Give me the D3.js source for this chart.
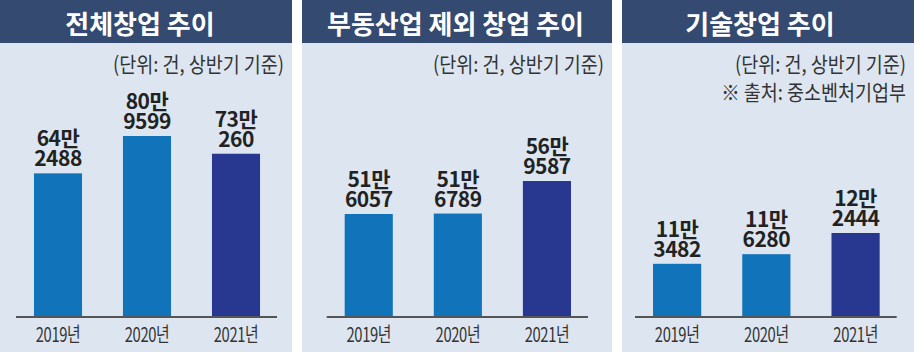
<!DOCTYPE html>
<html>
<head>
<meta charset="utf-8">
<script src="https://cdn.jsdelivr.net/npm/d3@7"></script>
<style>
  body { margin: 0; background: #fff; }
  svg { display: block; }
</style>
</head>
<body>
<svg id="chart"></svg>
<script>
// data
const years = ['2019년', '2020년', '2021년'];
const titles = ['전체창업 추이', '부동산업 제외 창업 추이', '기술창업 추이'];
const totalStartups = [642488, 809599, 730260];
const nonRealEstate = [516057, 516789, 569587];
const techStartups = [113482, 116280, 122444];
const valueLabels = [
  ['64만', '2488'], ['80만', '9599'], ['73만', '260'],
  ['51만', '6057'], ['51만', '6789'], ['56만', '9587'],
  ['11만', '3482'], ['11만', '6280'], ['12만', '2444']
];
const unitNote = '(단위: 건, 상반기 기준)';
const sourceNote = '※ 출처: 중소벤처기업부';

const series = [totalStartups, nonRealEstate, techStartups];
// scale floors (the original graphic doesn't start every panel at zero)
const yFloors = [0, 349000, 98000];

// layout per panel
const panels = [
  { x: 0, w: 292, axis: [16, 277], titleX: 140, top: 136 },
  { x: 302, w: 310, axis: [326.7, 588], titleX: 455.5, top: 181 },
  { x: 622, w: 292, axis: [635, 896.7], titleX: 760, top: 233 }
];

const width = 917, height = 354;
const baseline = 317;
const headerH = 43;
const colors = ['#1173ba', '#1173ba', '#283790'];
const font = '"Noto Sans CJK KR", sans-serif';

const svg = d3.select('#chart')
    .attr('width', width)
    .attr('height', height);

panels.forEach((p, pi) => {
  const g = svg.append('g');

  // background + header
  g.append('rect')
      .attr('x', p.x).attr('y', 0)
      .attr('width', p.w).attr('height', 352)
      .attr('fill', '#dde6f0');
  g.append('rect')
      .attr('x', p.x).attr('y', 0)
      .attr('width', p.w).attr('height', headerH)
      .attr('fill', '#344a70');
  g.append('text')
      .attr('x', p.titleX).attr('y', 34)
      .attr('text-anchor', 'middle')
      .style('font-family', font)
      .style('font-weight', 'bold')
      .style('font-size', '26px')
      .attr('fill', '#fff')
      .text(titles[pi]);

  // notes, a bit condensed like the original
  const right = p.x + p.w - 8;
  const notes = pi === 2 ? [unitNote, sourceNote] : [unitNote];
  notes.forEach((t, ni) => {
    g.append('text')
        .attr('transform', `translate(${right},${72 + ni * 28}) scale(0.88,1)`)
        .attr('text-anchor', 'end')
        .style('font-family', font)
        .style('font-size', '21px')
        .attr('fill', '#333')
        .text(t);
  });

  const xScale = d3.scaleBand()
      .domain(years)
      .range([p.axis[0] - 2.5, p.axis[1] + 3.5])
      .paddingInner(0.46)
      .paddingOuter(0.23);

  const yScale = d3.scaleLinear()
      .domain([yFloors[pi], d3.max(series[pi])])
      .range([baseline, p.top]);

  const data = series[pi].map((v, i) => ({ year: years[i], value: v, label: valueLabels[pi * 3 + i], i }));

  g.selectAll('rect.bar')
    .data(data)
    .enter()
    .append('rect')
      .attr('class', 'bar')
      .attr('x', d => xScale(d.year))
      .attr('y', d => yScale(d.value))
      .attr('width', xScale.bandwidth())
      .attr('height', d => baseline - yScale(d.value))
      .attr('fill', d => colors[d.i]);

  // value labels, two lines
  const lbl = g.selectAll('text.val')
    .data(data)
    .enter()
    .append('text')
      .attr('class', 'val')
      .attr('text-anchor', 'middle')
      .style('font-family', font)
      .style('font-weight', 'bold')
      .style('font-size', '21px')
      .style('letter-spacing', '-0.5px')
      .attr('fill', '#222');
  lbl.append('tspan')
      .attr('x', d => xScale(d.year) + xScale.bandwidth() / 2)
      .attr('y', d => yScale(d.value) - 27)
      .text(d => d.label[0]);
  lbl.append('tspan')
      .attr('x', d => xScale(d.year) + xScale.bandwidth() / 2)
      .attr('y', d => yScale(d.value) - 7)
      .text(d => d.label[1]);

  // x axis
  const axisG = g.append('g')
      .attr('transform', `translate(0,${baseline})`)
      .call(d3.axisBottom(xScale).tickSize(0).tickPadding(10));
  axisG.select('.domain')
      .attr('d', `M${p.axis[0]},0H${p.axis[1]}`)
      .attr('stroke', '#555')
      .attr('stroke-width', 2);
  axisG.selectAll('.tick text')
      .attr('y', 0)
      .attr('dy', 0)
      .attr('transform', 'translate(0,25) scale(0.74,1)')
      .style('font-family', font)
      .style('font-size', '20px')
      .style('letter-spacing', '-0.5px')
      .attr('fill', '#333');
});
</script>
</body>
</html>
